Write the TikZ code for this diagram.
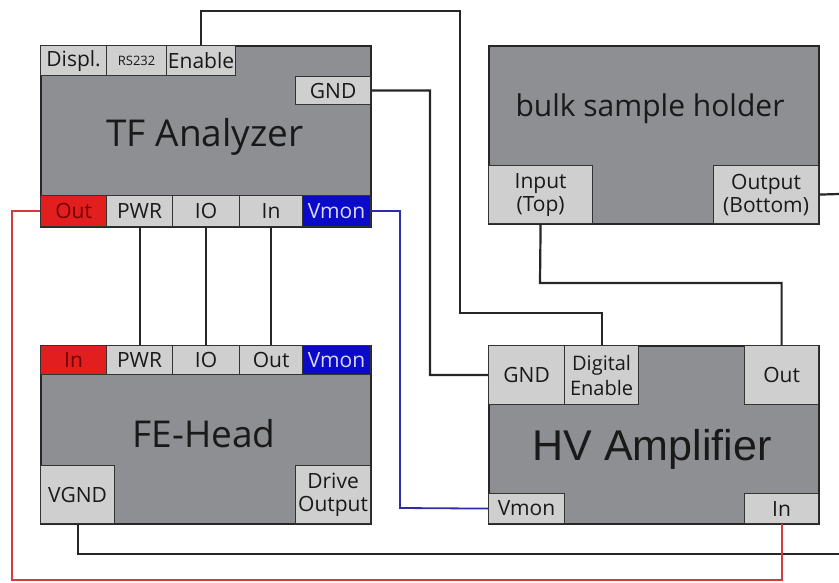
\documentclass[tikz,border=0pt]{standalone}
\usepackage{fontspec}
\setmainfont{Open Sans}
\newfontfamily\arialfont{Liberation Sans}
\usetikzlibrary{positioning}

\definecolor{boxgray}{RGB}{142,143,147}
\definecolor{portgray}{RGB}{207,207,207}
\definecolor{portred}{RGB}{226,30,30}
\definecolor{portblue}{RGB}{10,10,200}
\definecolor{wirered}{RGB}{210,60,60}
\definecolor{wireblue}{RGB}{45,45,170}

\begin{document}
\begin{tikzpicture}[x=1pt, y=-1pt,
  box/.style={draw=black!85, line width=1.6pt, fill=boxgray, anchor=north west, inner sep=0pt},
  port/.style={draw=black!80, line width=1.2pt, fill=portgray, anchor=north west, inner sep=0pt,
    align=center, text=black!90, font=\fontsize{21}{23}\selectfont},
  redport/.style={port, fill=portred, text=red!45!black},
  blueport/.style={port, fill=portblue, text=blue!15},
  title/.style={text=black!90, inner sep=0pt},
  wire/.style={line width=2.2pt, black!85},
  redwire/.style={line width=1.8pt, wirered},
  bluewire/.style={line width=1.8pt, wireblue}]
  \useasboundingbox (0,0) rectangle (839,583);

  % TF Analyzer
  \node[box, minimum width=330pt, minimum height=181pt] (tf) at (40,45) {};
  \node[title, font=\fontsize{37}{40}\selectfont] (tfTitle) at (205,137) {TF Analyzer};
  \node[port, minimum width=66pt, minimum height=30pt] (tfDispl) at (40,45) {Displ.};
  \node[port, minimum width=60pt, minimum height=30pt, font=\fontsize{13}{15}\selectfont] (tfRs) at (106,45) {RS232};
  \node[port, minimum width=69pt, minimum height=30pt] (tfEnable) at (166,45) {Enable};
  \node[port, minimum width=75pt, minimum height=28pt] (tfGnd) at (295,76) {GND};
  \node[redport, minimum width=66pt, minimum height=31pt] (tfOut) at (40,195) {Out};
  \node[port, minimum width=66pt, minimum height=31pt] (tfPwr) at (106,195) {PWR};
  \node[port, minimum width=67pt, minimum height=31pt] (tfIo) at (172,195) {IO};
  \node[port, minimum width=63pt, minimum height=31pt] (tfIn) at (239,195) {In};
  \node[blueport, minimum width=68pt, minimum height=31pt] (tfVmon) at (302,195) {Vmon};

  % FE-Head
  \node[box, minimum width=330pt, minimum height=178pt] (fe) at (40,345) {};
  \node[title, font=\fontsize{37}{40}\selectfont] (feTitle) at (204,434) {FE-Head};
  \node[redport, minimum width=66pt, minimum height=29pt] (feIn) at (40,345) {In};
  \node[port, minimum width=66pt, minimum height=29pt] (fePwr) at (106,345) {PWR};
  \node[port, minimum width=67pt, minimum height=29pt] (feIo) at (172,345) {IO};
  \node[port, minimum width=63pt, minimum height=29pt] (feOut) at (239,345) {Out};
  \node[blueport, minimum width=68pt, minimum height=29pt] (feVmon) at (302,345) {Vmon};
  \node[port, minimum width=74pt, minimum height=58pt] (feVgnd) at (40,465) {VGND};
  \node[port, minimum width=75pt, minimum height=58pt] (feDrive) at (295,465) {Drive\\Output};

  % bulk sample holder
  \node[box, minimum width=330pt, minimum height=178pt] (bk) at (488,45) {};
  \node[title, font=\fontsize{30}{34}\selectfont] (bkTitle) at (650,109) {bulk sample holder};
  \node[port, minimum width=104pt, minimum height=58pt] (bkIn) at (488,165) {Input\\(Top)};
  \node[port, minimum width=105pt, minimum height=58pt] (bkOut) at (713,165) {Output\\(Bottom)};

  % HV Amplifier
  \node[box, minimum width=330pt, minimum height=178pt] (hv) at (488,345) {};
  \node[title, font=\arialfont\fontsize{43}{46}\selectfont] (hvTitle) at (652,449) {HV Amplifier};
  \node[port, minimum width=76pt, minimum height=59pt] (hvGnd) at (488,345) {GND};
  \node[port, minimum width=74pt, minimum height=59pt, font=\fontsize{20}{25}\selectfont] (hvDig) at (564,345) {Digital\\Enable};
  \node[port, minimum width=74pt, minimum height=59pt] (hvOut) at (744,345) {Out};
  \node[port, minimum width=76pt, minimum height=30pt] (hvVmon) at (488,493) {Vmon};
  \node[port, minimum width=74pt, minimum height=30pt] (hvIn) at (744,493) {In};

  % puntos de paso de los cables
  \coordinate (enTop) at (460,11);
  \coordinate (enLow) at (460,313);
  \coordinate (gndRun) at (430,375);
  \coordinate (vmonRun) at (400,508);
  \coordinate (redCorner) at (12,580);
  \coordinate (vgndEnd) at (839,554);
  \coordinate (outTurn) at (540,283);
  \coordinate (bkOutEnd) at (839,194);

  % cables
  \draw[wire] (tfPwr.south) -- (fePwr.north);
  \draw[wire] (tfIo.south) -- (feIo.north);
  \draw[wire] (tfIn.south) -- (feOut.north);
  \draw[wire] (tfEnable.north) |- (enTop) -- (enLow) -| (hvDig.north);
  \draw[wire] (tfGnd.east) -| (gndRun) -- (hvGnd.west);
  \draw[wire] (feVgnd.south) |- (vgndEnd);
  \draw[wire] (hvOut.north) |- (outTurn) -- (bkIn.south);
  \draw[wire] (bkOut.east) -- (bkOutEnd);
  \draw[bluewire] (tfVmon.east) -| (vmonRun) -- (hvVmon.west);
  \draw[redwire] (tfOut.west) -| (redCorner) -| (hvIn.south);
\end{tikzpicture}
\end{document}
